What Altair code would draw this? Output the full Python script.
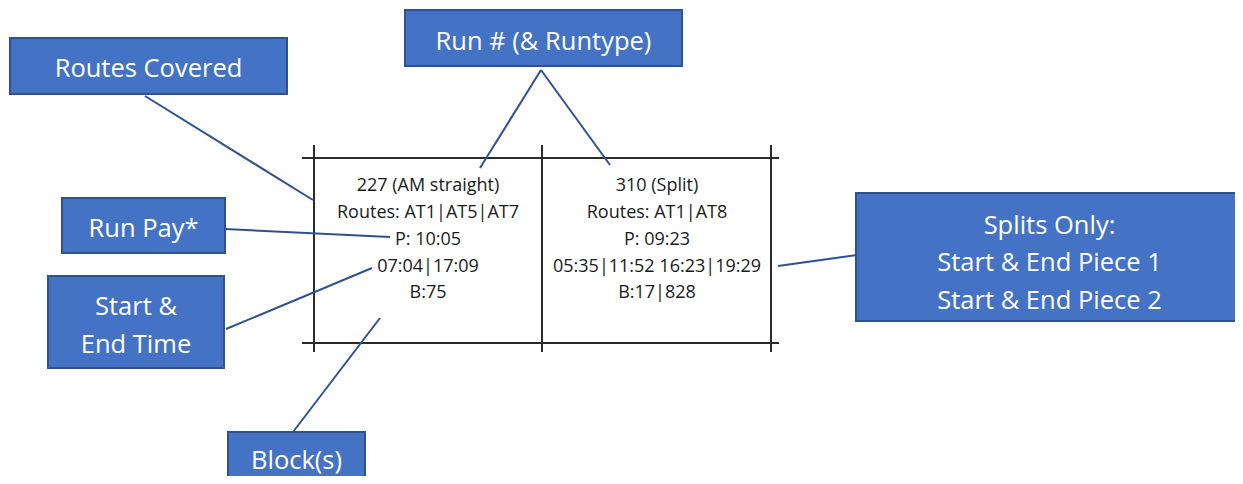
import altair as alt
import pandas as pd

# Callout boxes
box_labels = ["Routes Covered", "Run # (& Runtype)", "Run Pay*", "Start &\nEnd Time", "Block(s)",
              "Splits Only:\nStart & End Piece 1\nStart & End Piece 2"]
box_x1 = [10, 405, 62, 48, 228, 856]
box_x2 = [287, 682, 225, 224, 365, 1243]
box_y1 = [38, 10, 198, 276, 432, 193]
box_y2 = [94, 66, 253, 368, 495, 321]
label_cy = [69, 42, 229, 326, 461, 263]
label_step = [0, 0, 0, 38, 0, 37.5]

# Cell text
left_cell = ["227 (AM straight)", "Routes: AT1|AT5|AT7", "P: 10:05", "07:04|17:09", "B:75"]
right_cell = ["310 (Split)", "Routes: AT1|AT8", "P: 09:23", "05:35|11:52 16:23|19:29", "B:17|828"]
cell_cx = [428, 657]
line_y = [186, 213, 240, 267, 293]

# Table grid
h_y = [158, 343]
h_x1, h_x2 = 302, 779
v_x = [314, 542, 771]
v_y1, v_y2 = 145, 352

# Connector lines
conn_x1 = [145, 541, 541, 225, 226, 293, 778]
conn_y1 = [96, 70, 70, 229, 329, 432, 266]
conn_x2 = [313, 480, 610, 390, 372, 380, 857]
conn_y2 = [200, 168, 165, 237, 268, 318, 255]

X = alt.Scale(domain=[8, 1235], nice=False, zero=False)
Y = alt.Scale(domain=[8, 476], nice=False, zero=False, reverse=True)
noax = None
FONT = "Open Sans"

boxes = pd.DataFrame({"x1": box_x1, "x2": box_x2, "y1": box_y1, "y2": box_y2})
box_layer = alt.Chart(boxes).mark_rect(fill="#4472C4", stroke="#2F528F", strokeWidth=2).encode(
    x=alt.X("x1:Q", scale=X, axis=noax), x2="x2", y=alt.Y("y1:Q", scale=Y, axis=noax), y2="y2")

rows = []
for lab, a, b, cy, step in zip(box_labels, box_x1, box_x2, label_cy, label_step):
    parts = lab.split("\n")
    cx = (a + b) / 2
    for i, p in enumerate(parts):
        rows.append({"x": cx, "y": cy + (i - (len(parts) - 1) / 2) * step, "t": p})
blabels = pd.DataFrame(rows)
blabel_layer = alt.Chart(blabels).mark_text(color="white", font=FONT, fontSize=25.5, baseline="middle").encode(
    x=alt.X("x:Q", scale=X, axis=noax), y=alt.Y("y:Q", scale=Y, axis=noax), text="t:N")

crow = []
for cx, col in zip(cell_cx, [left_cell, right_cell]):
    for y, t in zip(line_y, col):
        crow.append({"x": cx, "y": y, "t": t})
cells = pd.DataFrame(crow)
cell_layer = alt.Chart(cells).mark_text(color="#1a1a1a", font=FONT, fontSize=18, baseline="middle").encode(
    x=alt.X("x:Q", scale=X, axis=noax), y=alt.Y("y:Q", scale=Y, axis=noax), text="t:N")

grid = pd.DataFrame(
    [{"x1": h_x1, "x2": h_x2, "y1": y, "y2": y} for y in h_y] +
    [{"x1": x, "x2": x, "y1": v_y1, "y2": v_y2} for x in v_x])
grid_layer = alt.Chart(grid).mark_rule(color="#2b2b2b", strokeWidth=2).encode(
    x=alt.X("x1:Q", scale=X, axis=noax), x2="x2", y=alt.Y("y1:Q", scale=Y, axis=noax), y2="y2")

conn = pd.DataFrame({"x1": conn_x1, "y1": conn_y1, "x2": conn_x2, "y2": conn_y2})
conn_layer = alt.Chart(conn).mark_rule(color="#2F528F", strokeWidth=2).encode(
    x=alt.X("x1:Q", scale=X, axis=noax), x2="x2", y=alt.Y("y1:Q", scale=Y, axis=noax), y2="y2")

chart = alt.layer(grid_layer, conn_layer, cell_layer, box_layer, blabel_layer).properties(
    width=1227, height=468, padding=0, autosize=alt.AutoSizeParams(type="none"), background="white"
).configure_view(stroke=None)

chart.save("out.html", embed_options={"renderer": "svg", "actions": False})
